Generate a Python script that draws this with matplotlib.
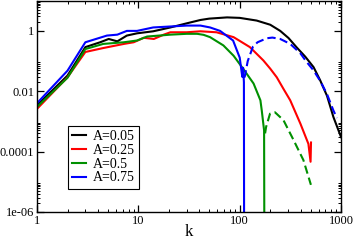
import matplotlib
matplotlib.use("Agg")
import matplotlib.pyplot as plt
from matplotlib.ticker import FixedLocator, NullFormatter

plt.rcParams['font.family'] = ['Liberation Serif', 'DejaVu Serif']

# A=0.05
k_a05 = [1, 2, 3, 4.2, 5.1, 6.2, 7.7, 9.7, 14, 20.7, 30, 41, 50, 75, 100, 147, 200, 251, 303,
         366, 443, 535, 622, 727, 840, 1000]
v_a05 = [0.0034, 0.033, 0.29, 0.42, 0.54, 0.45, 0.7, 0.83, 0.97, 1.3, 1.78, 2.3, 2.55, 2.8, 2.7,
         2.2, 1.6, 1.0, 0.58, 0.28, 0.14, 0.063, 0.023, 0.007, 0.0014, 0.0003]

# A=0.25
k_a25 = [1, 2, 3, 4.5, 7.2, 9, 11.3, 14.2, 17.8, 20.7, 30, 41, 59, 87, 126, 171, 200, 232, 270,
         315, 397, 476, 500, 505]
v_a25 = [0.0026, 0.029, 0.2, 0.27, 0.37, 0.42, 0.59, 0.54, 0.75, 0.9, 0.9, 0.97, 0.9, 0.62, 0.29,
         0.105, 0.056, 0.029, 0.012, 0.005, 8.4e-4, 1.8e-4, 4.6e-5, 2e-4]

# A=0.5 (solid part, then dashed part)
k_a50 = [1, 2, 3, 4.5, 7.2, 9.7, 12.2, 20.7, 30, 38, 44, 51, 69, 87, 108, 137, 160, 165, 174, 175]
v_a50 = [0.003, 0.028, 0.25, 0.37, 0.42, 0.48, 0.65, 0.75, 0.8, 0.8, 0.74, 0.62, 0.33, 0.15, 0.056,
         0.018, 0.005, 0.0023, 5e-4, 1e-7]
k_a50d = [178, 182, 199, 223, 270, 340, 425, 504]
v_a50d = [4e-4, 6.5e-4, 1.8e-3, 2e-3, 1.1e-3, 2.4e-4, 5.2e-5, 7.9e-6]

# A=0.75 (solid part, then dashed part)
k_a75 = [1, 2, 3, 4.9, 6.2, 7.7, 9.7, 14, 30, 41, 51, 64, 86, 100, 106, 108, 110, 110.5]
v_a75 = [0.004, 0.048, 0.42, 0.7, 0.75, 1.0, 1.0, 1.3, 1.5, 1.5, 1.3, 1.0, 0.48, 0.13, 0.03, 0.06,
         0.02, 1e-7]
k_a75d = [108, 112, 120, 135, 150, 185, 210, 251, 315, 397, 450, 535, 622, 727, 840, 910]
v_a75d = [0.03, 0.03, 0.1, 0.3, 0.42, 0.57, 0.6, 0.54, 0.37, 0.18, 0.1, 0.049, 0.022, 0.008,
          0.0023, 0.0013]

fig = plt.figure(figsize=(3.54, 2.4), dpi=100)
ax = fig.add_axes([0.1045, 0.117, 0.859, 0.88])

lw = 1.5
dash = (0, (4, 2))
ax.plot(k_a05, v_a05, color='black', lw=lw, label='A=0.05')
ax.plot(k_a25, v_a25, color='red', lw=lw, label='A=0.25')
ax.plot(k_a50, v_a50, color='#009000', lw=lw, label='A=0.5')
ax.plot(k_a75, v_a75, color='blue', lw=lw, label='A=0.75')
ax.plot(k_a50d, v_a50d, color='#009000', lw=lw, ls=dash)
ax.plot(k_a75d, v_a75d, color='blue', lw=lw, ls=dash)

ax.set_xscale('log')
ax.set_yscale('log')
ax.set_xlim(1, 1000)
ax.set_ylim(1e-6, 10)

ax.xaxis.set_major_locator(FixedLocator([1, 10, 100, 1000]))
ax.set_xticklabels(['1', '10', '100', '1000'])
xminor = [m * d for d in [1, 10, 100] for m in range(2, 10)]
ax.xaxis.set_minor_locator(FixedLocator(xminor))
ax.xaxis.set_minor_formatter(NullFormatter())

ax.yaxis.set_major_locator(FixedLocator([1e-6, 1e-4, 1e-2, 1]))
ax.set_yticklabels(['1e-06', '0.0001', '0.01', '1'])
yminor = [m * d for d in [1e-6, 1e-4, 1e-2, 1] for m in range(2, 10)]
ax.yaxis.set_minor_locator(FixedLocator(yminor))
ax.yaxis.set_minor_formatter(NullFormatter())

ax.tick_params(which='both', direction='in', top=True, right=True, labelsize=9, pad=2)
ax.tick_params(which='major', length=5, width=0.9)
ax.tick_params(which='minor', length=2.5, width=0.7)
for s in ax.spines.values():
    s.set_linewidth(1.0)

ax.set_xlabel('k', fontsize=12, labelpad=-2)

leg = ax.legend(loc='upper left', bbox_to_anchor=(0.102, 0.406), borderaxespad=0,
                fontsize=10, handlelength=1.0, handletextpad=0.5, labelspacing=0.05,
                borderpad=0.3, fancybox=False, framealpha=1)
leg.get_frame().set_edgecolor('black')
leg.get_frame().set_linewidth(0.8)

fig.savefig('out.png', dpi=100)
